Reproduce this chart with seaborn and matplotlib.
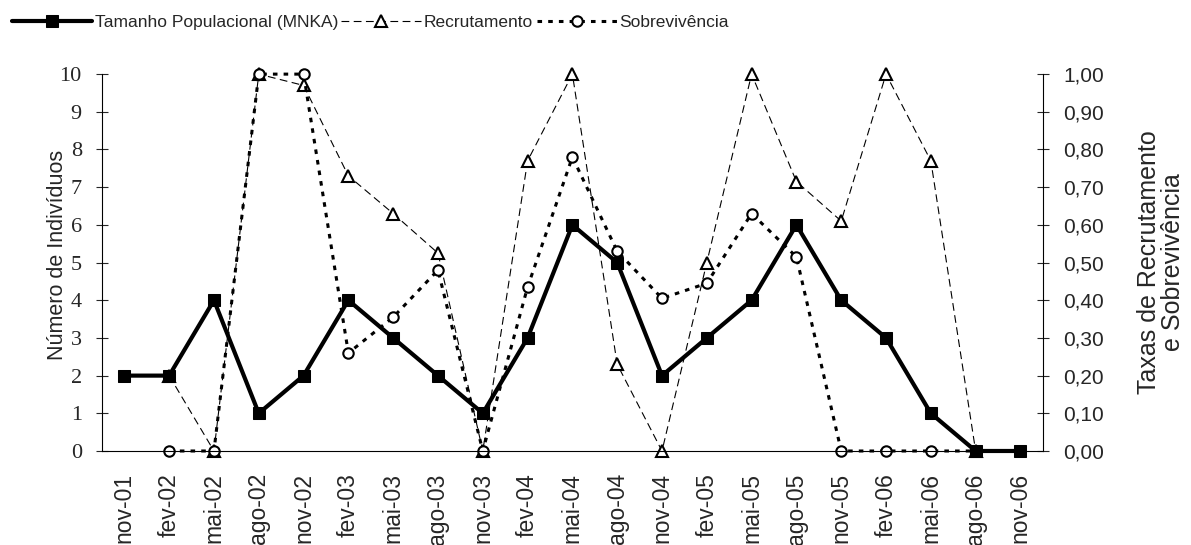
import matplotlib
matplotlib.use("Agg")
import matplotlib.pyplot as plt
from matplotlib import font_manager
from matplotlib.ticker import FuncFormatter, FixedLocator
import seaborn as sns
import pandas as pd
import numpy as np

# dados
meses = ["nov-01", "fev-02", "mai-02", "ago-02", "nov-02", "fev-03", "mai-03",
         "ago-03", "nov-03", "fev-04", "mai-04", "ago-04", "nov-04", "fev-05",
         "mai-05", "ago-05", "nov-05", "fev-06", "mai-06", "ago-06", "nov-06"]
mnka = [2, 2, 4, 1, 2, 4, 3, 2, 1, 3, 6, 5, 2, 3, 4, 6, 4, 3, 1, 0, 0]
recrutamento = [np.nan, 0.20, 0.00, 1.00, 0.97, 0.73, 0.63, 0.525, 0.00, 0.77,
                1.00, 0.23, 0.00, 0.50, 1.00, 0.715, 0.61, 1.00, 0.77, 0.00, np.nan]
sobrevivencia = [np.nan, 0.00, 0.00, 1.00, 1.00, 0.26, 0.355, 0.48, 0.00, 0.435,
                 0.78, 0.53, 0.405, 0.445, 0.63, 0.515, 0.00, 0.00, 0.00, 0.00, np.nan]

df = pd.DataFrame({"pos": np.arange(len(meses)), "mes": meses, "mnka": mnka,
                   "rec": recrutamento, "sob": sobrevivencia})

sns.set_style("white")
plt.rcParams['font.family'] = ['Liberation Sans', 'DejaVu Sans']

# fonte estreita para a legenda (parece condensada no original)
nomes = {f.name for f in font_manager.fontManager.ttflist}
if "Liberation Sans Narrow" in nomes:
    leg_font = dict(family="Liberation Sans Narrow", size=15)
else:
    leg_font = dict(family="Liberation Sans", size=12.5)

fig = plt.figure(figsize=(11.91, 5.45), dpi=100)
ax = fig.add_axes([0.0856, 0.1725, 0.79, 0.6915])
ax2 = ax.twinx()

sns.lineplot(data=df, x="pos", y="rec", ax=ax2, color="black", lw=0.8,
             linestyle=(0, (7, 4)), marker="^", markersize=9, markerfacecolor="white",
             markeredgecolor="black", markeredgewidth=1.5, clip_on=False,
             label="Recrutamento", zorder=2)
sns.lineplot(data=df, x="pos", y="sob", ax=ax2, color="black", lw=2.2,
             linestyle=(0, (1.5, 2)), marker="o", markersize=7.5, markerfacecolor="white",
             markeredgecolor="black", markeredgewidth=1.5, clip_on=False,
             label="Sobrevivência", zorder=3)
sns.lineplot(data=df, x="pos", y="mnka", ax=ax, color="black", lw=3,
             marker="s", markersize=9, markeredgecolor="black", clip_on=False,
             label="Tamanho Populacional (MNKA)", zorder=4)

# linha da população por cima do eixo gémeo
ax.set_zorder(ax2.get_zorder() + 1)
ax.patch.set_visible(False)

ax.set_xlim(-0.5, len(meses) - 0.5)
ax.set_ylim(0, 10)
ax2.set_ylim(0, 1)

ax.set_xticks(df["pos"])
ax.set_xticklabels(meses, rotation=90, fontsize=16.5)
ax.xaxis.set_minor_locator(FixedLocator(np.arange(-0.5, len(meses), 1)))
ax.tick_params(axis="x", which="major", length=0, pad=16)
ax.tick_params(axis="x", which="minor", direction="inout", length=9, width=0.8)
ax.set_yticks(range(0, 11))
ax.set_yticklabels([str(v) for v in range(0, 11)], family="Liberation Serif", fontsize=16)
ax.tick_params(axis="y", direction="inout", length=9, width=0.8, pad=10)
ax2.set_yticks(np.arange(0, 1.01, 0.1))
ax2.yaxis.set_major_formatter(FuncFormatter(lambda v, p: f"{v:.2f}".replace(".", ",")))
ax2.tick_params(axis="y", direction="inout", length=9, width=0.8, labelsize=15, pad=10)

for a in (ax, ax2):
    a.spines["top"].set_visible(False)
    for s in ("left", "right", "bottom"):
        a.spines[s].set_linewidth(0.8)
        a.spines[s].set_color("black")
ax.spines["right"].set_visible(False)
ax2.spines["left"].set_visible(False)
ax2.spines["bottom"].set_visible(False)

ax.set_xlabel("")
ax.set_ylabel("Número de Indivíduos", fontsize=15.5)
ax.yaxis.set_label_coords(-0.036, 0.52)
ax2.set_ylabel("Taxas de Recrutamento\ne Sobrevivência", fontsize=18, linespacing=1.0)
ax2.yaxis.set_label_coords(1.1, 0.5)

h1, l1 = ax.get_legend_handles_labels()
h2, l2 = ax2.get_legend_handles_labels()
ax.get_legend().remove()
ax2.get_legend().remove()
fig.legend(h1 + h2, l1 + l2, loc="upper left", bbox_to_anchor=(0.0, 0.995), ncol=3,
           frameon=False, handlelength=4.6, handletextpad=0.15, columnspacing=0.2,
           prop=leg_font, borderaxespad=0.3)

fig.savefig("out.png", dpi=100)
